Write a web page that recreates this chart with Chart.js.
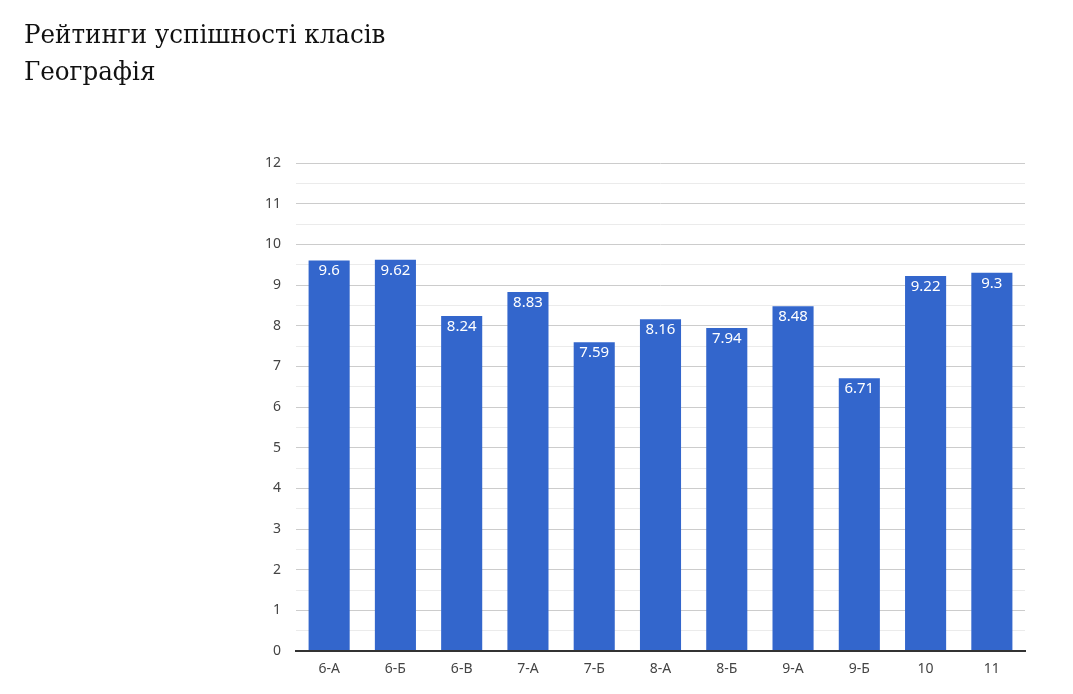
<!DOCTYPE html>
<html>
<head>
<meta charset="utf-8">
<script src="https://cdn.jsdelivr.net/npm/chart.js@4"></script>
<style>
  html, body { margin: 0; padding: 0; background: #fff; }
  #wrap { position: absolute; left: 0; top: 0; width: 1073px; height: 694px; }
  .title { position: absolute; left: 24px; font-family: "DejaVu Serif", serif; font-size: 26px; color: #111; white-space: nowrap; transform-origin: 0 0; transform: scaleX(0.945); }
</style>
</head>
<body>
<div id="wrap"><canvas id="chart"></canvas></div>
<div class="title" style="top:19px">Рейтинги успішності класів</div>
<div class="title" style="top:56px">Географія</div>
<script>
const categories = ['6-А', '6-Б', '6-В', '7-А', '7-Б', '8-А', '8-Б', '9-А', '9-Б', '10', '11'];
const values = [9.6, 9.62, 8.24, 8.83, 7.59, 8.16, 7.94, 8.48, 6.71, 9.22, 9.3];
const yMin = 0;
const yMax = 12;

// white value labels inside the top of each bar
const barLabels = {
  id: 'barLabels',
  afterDatasetsDraw(chart) {
    const ctx = chart.ctx;
    const meta = chart.getDatasetMeta(0);
    ctx.save();
    ctx.fillStyle = '#fff';
    ctx.font = '15px "Noto Sans", sans-serif';
    ctx.textAlign = 'center';
    ctx.textBaseline = 'top';
    meta.data.forEach((bar, i) => {
      ctx.fillText(String(values[i]), bar.x, bar.y + 3);
    });
    ctx.restore();
  }
};

new Chart(document.getElementById('chart'), {
  type: 'bar',
  data: {
    labels: categories,
    datasets: [{
      data: values,
      backgroundColor: '#3366cc',
      barPercentage: 0.62,
      categoryPercentage: 1
    }]
  },
  options: {
    responsive: true,
    maintainAspectRatio: false,
    animation: false,
    layout: { padding: { top: 163, right: 48, left: 0, bottom: 0 } },
    plugins: { legend: { display: false }, tooltip: { enabled: false } },
    scales: {
      x: {
        grid: { display: false },
        border: { color: '#333', width: 2 },
        ticks: { color: '#444', font: { family: 'Noto Sans', size: 14 }, padding: 2, maxRotation: 0 },
        afterFit(scale) { scale.height = 43; }
      },
      y: {
        min: yMin,
        max: yMax,
        border: { display: false },
        grid: {
          drawTicks: false,
          color: c => c.tick.value === 0 ? '#333' : (c.tick.value % 1 === 0 ? '#ccc' : '#ebebeb'),
          lineWidth: c => c.tick.value === 0 ? 2 : 1
        },
        ticks: {
          stepSize: 0.5,
          color: '#444',
          font: { family: 'Noto Sans', size: 14 },
          padding: 15,
          callback: v => v % 1 === 0 ? v : ''
        },
        afterFit(scale) { scale.width = 296; }
      }
    }
  },
  plugins: [barLabels]
});
</script>
</body>
</html>
